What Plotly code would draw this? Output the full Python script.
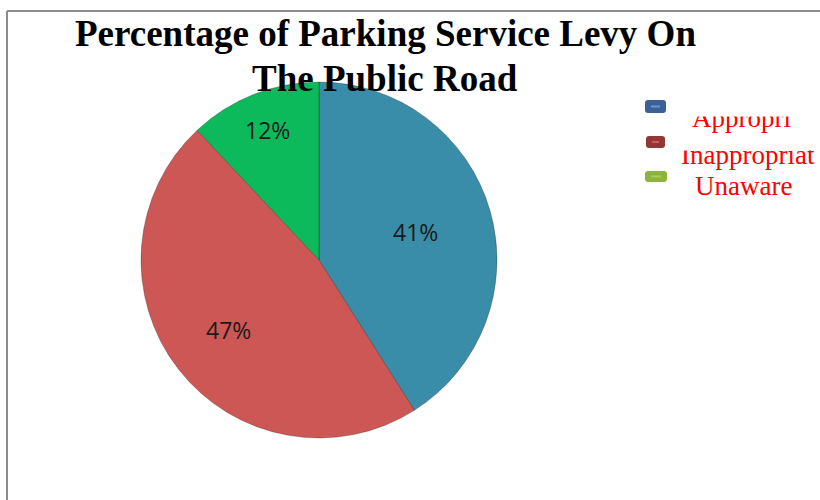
import math
import plotly.graph_objects as go

# ---- data ----
categories = ["Appropriate", "Inappropriate", "Unaware"]
values = [41, 47, 12]
legend_labels = ["Appropri", "Inappropriat", "Unaware"]
title_lines = ["Percentage of Parking Service Levy On", "The Public Road"]

slice_colors = ["#3A8DA8", "#CD5755", "#0CB95B"]
legend_colors = ["#3B6296", "#943634", "#8DB43E"]
legend_dash = ["#6A96CF", "#C8605D", "#A9CC62"]
label_radius_frac = [0.565, 0.645, 0.785]

W, H = 820, 500
CX, CY, R = 319, 260, 178

fig = go.Figure()
fig.add_trace(go.Pie(
    labels=categories,
    values=values,
    sort=False,
    direction="clockwise",
    rotation=0,
    marker=dict(colors=slice_colors, line=dict(color="rgba(0,0,0,0.25)", width=1)),
    textinfo="none",
    hoverinfo="label+percent",
    showlegend=False,
    domain=dict(x=[(CX - R) / W, (CX + R) / W], y=[1 - (CY + R) / H, 1 - (CY - R) / H]),
))

def px_x(x):
    return x / W

def px_y(y):
    return 1 - y / H

shapes = []
# frame (top and left edge visible)
shapes.append(dict(type="line", xref="paper", yref="paper", x0=px_x(7), x1=1.0, y0=px_y(11), y1=px_y(11),
                   line=dict(color="#8C8C8C", width=2)))
shapes.append(dict(type="line", xref="paper", yref="paper", x0=px_x(7), x1=px_x(7), y0=0, y1=px_y(11),
                   line=dict(color="#8C8C8C", width=2)))

def rrect(x0, y0, x1, y1, r):
    return (f"M {px_x(x0 + r)},{px_y(y0)} L {px_x(x1 - r)},{px_y(y0)} "
            f"Q {px_x(x1)},{px_y(y0)} {px_x(x1)},{px_y(y0 + r)} "
            f"L {px_x(x1)},{px_y(y1 - r)} Q {px_x(x1)},{px_y(y1)} {px_x(x1 - r)},{px_y(y1)} "
            f"L {px_x(x0 + r)},{px_y(y1)} Q {px_x(x0)},{px_y(y1)} {px_x(x0)},{px_y(y1 - r)} "
            f"L {px_x(x0)},{px_y(y0 + r)} Q {px_x(x0)},{px_y(y0)} {px_x(x0 + r)},{px_y(y0)} Z")

marker_boxes = [(645, 100, 666, 113), (646, 136, 665, 148), (645, 171, 667, 182)]
for (x0, y0, x1, y1), c, dc in zip(marker_boxes, legend_colors, legend_dash):
    shapes.append(dict(type="path", xref="paper", yref="paper", path=rrect(x0, y0, x1, y1, 3),
                       fillcolor=c, line=dict(width=0)))
    ym = (y0 + y1) / 2
    shapes.append(dict(type="line", xref="paper", yref="paper", x0=px_x(x0 + 6), x1=px_x(x1 - 6),
                       y0=px_y(ym), y1=px_y(ym), line=dict(color=dc, width=2)))

annotations = []
# slice percentage labels, placed from the slice angles
total = sum(values)
cum = 0.0
for v, f in zip(values, label_radius_frac):
    mid = (cum + v / 2) / total * 2 * math.pi
    cum += v
    lx = CX + R * f * math.sin(mid)
    ly = CY - R * f * math.cos(mid)
    annotations.append(dict(text=f"{v}%", xref="paper", yref="paper", x=px_x(lx), y=px_y(ly),
                            xanchor="center", yanchor="middle", showarrow=False,
                            font=dict(family="Open Sans", size=23, color="#1a1a1a")))

# title lines
for txt, base in zip(title_lines, [47, 92]):
    annotations.append(dict(text=f"<b>{txt}</b>", xref="paper", yref="paper", x=385 / W, y=px_y(base),
                            xanchor="center", yanchor="bottom", yshift=-9, showarrow=False,
                            font=dict(family="Liberation Serif", size=37, color="#000000")))

# legend texts (baselines)
legend_centers = [(741, 129), (748, 166), (743, 197)]
for (cx, by), t in zip(legend_centers, legend_labels):
    annotations.append(dict(text=t, xref="paper", yref="paper", x=px_x(cx), y=px_y(by),
                            xanchor="center", yanchor="bottom", yshift=-6, showarrow=False,
                            font=dict(family="Liberation Serif", size=27, color="#FF0000")))
# white covers to clip the tops of the first two legend entries
for (x0, y0, x1, y1) in [(680, 98, 815, 116), (675, 138, 818, 150)]:
    annotations.append(dict(text=" ", xref="paper", yref="paper", x=px_x((x0 + x1) / 2), y=px_y((y0 + y1) / 2),
                            xanchor="center", yanchor="middle", showarrow=False,
                            width=x1 - x0, height=y1 - y0, bgcolor="#FFFFFF", borderpad=0,
                            font=dict(size=4)))

fig.update_layout(
    width=W, height=H,
    margin=dict(l=0, r=0, t=0, b=0),
    paper_bgcolor="#FFFFFF",
    plot_bgcolor="#FFFFFF",
    shapes=shapes,
    annotations=annotations,
    showlegend=False,
)

fig.write_html("out.html", config={"displayModeBar": False},
               post_script="document.body.style.margin='0';")
